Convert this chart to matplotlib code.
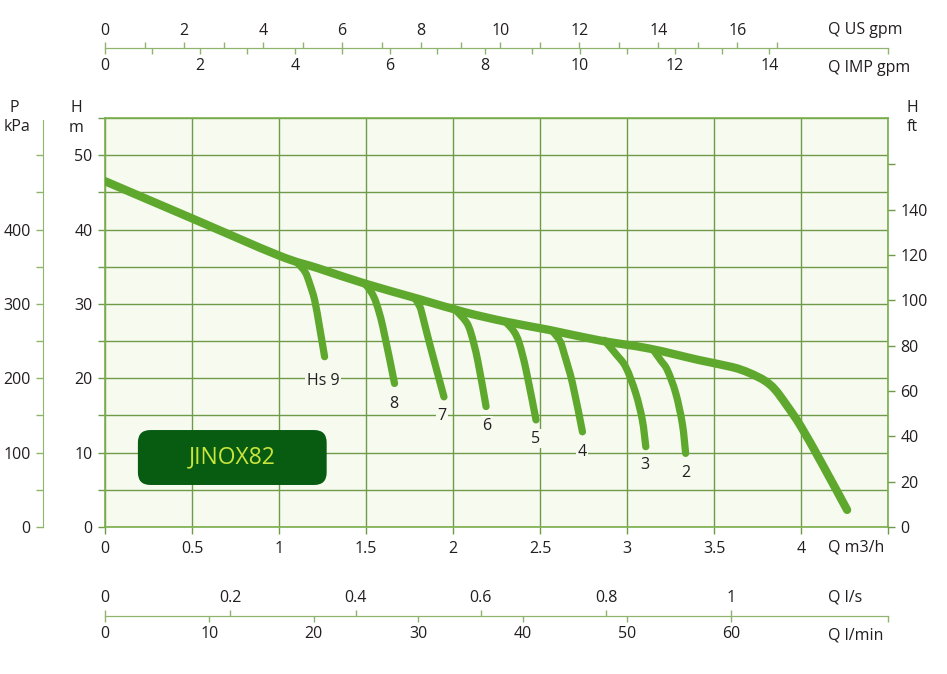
import matplotlib
matplotlib.use("Agg")
import matplotlib.pyplot as plt
from matplotlib.patches import FancyBboxPatch, PathPatch
from matplotlib.path import Path
import numpy as np

plt.rcParams['font.family'] = ['Open Sans', 'DejaVu Sans']

# ---------------- data (Q in m3/h, H in m) ----------------
main_q = [0.0, 0.5, 1.0, 1.224, 1.492, 1.798, 2.065, 2.305, 2.553, 2.84, 3.127,
          3.414, 3.605, 3.70, 3.79, 3.85, 3.92, 4.0, 4.121, 4.265]
main_h = [46.5, 41.5, 36.5, 34.8, 32.75, 30.7, 28.9, 27.6, 26.5, 25.1, 24.0,
          22.45, 21.5, 20.75, 19.7, 18.5, 16.3, 13.5, 8.5, 2.3]

hs9_q = [1.105, 1.15, 1.176, 1.205, 1.233, 1.262]
hs9_h = [35.55, 34.3, 32.75, 30.5, 26.9, 22.9]
hs8_q = [1.49, 1.53, 1.559, 1.597, 1.664]
hs8_h = [32.8, 31.6, 30.1, 26.9, 19.3]
hs7_q = [1.78, 1.81, 1.826, 1.865, 1.948]
hs7_h = [30.8, 29.6, 28.3, 24.7, 17.5]
hs6_q = [2.01, 2.075, 2.104, 2.142, 2.19]
hs6_h = [29.3, 27.6, 26.0, 22.4, 16.2]
hs5_q = [2.30, 2.35, 2.381, 2.42, 2.477]
hs5_h = [27.65, 26.3, 24.7, 21.1, 14.4]
hs4_q = [2.57, 2.615, 2.639, 2.687, 2.744]
hs4_h = [26.4, 25.0, 23.3, 19.3, 12.8]
hs3_q = [2.87, 2.935, 2.993, 3.05, 3.088, 3.108]
hs3_h = [25.1, 23.3, 21.5, 18.0, 14.4, 10.8]
hs2_q = [3.15, 3.194, 3.232, 3.28, 3.318, 3.337]
hs2_h = [23.85, 22.4, 21.1, 18.0, 13.9, 9.9]

branch_labels = ['Hs 9', '8', '7', '6', '5', '4', '3', '2']
branch_q = [hs9_q, hs8_q, hs7_q, hs6_q, hs5_q, hs4_q, hs3_q, hs2_q]
branch_h = [hs9_h, hs8_h, hs7_h, hs6_h, hs5_h, hs4_h, hs3_h, hs2_h]
label_q = [1.253, 1.66, 1.935, 2.193, 2.476, 2.74, 3.103, 3.34]
label_h = [19.7, 16.6, 14.9, 13.6, 11.9, 10.1, 8.3, 7.3]

model_name = 'JINOX82'

# tick values / labels
q_ticks = [0, 0.5, 1, 1.5, 2, 2.5, 3, 3.5, 4, 4.5]
q_ticklabels = ['0', '0.5', '1', '1.5', '2', '2.5', '3', '3.5', '4', '']
h_ticks = [0, 5, 10, 15, 20, 25, 30, 35, 40, 45, 50, 55]
h_ticklabels = ['0', '', '10', '', '20', '', '30', '', '40', '', '50', '']
kpa_ticks = [0, 100, 200, 300, 400]
kpa_minor = [50, 150, 250, 350, 450, 500]
ft_ticks = [0, 20, 40, 60, 80, 100, 120, 140]
ft_minor = [160]
usgpm_ticks = [0, 2, 4, 6, 8, 10, 12, 14, 16]
usgpm_minor = [1, 3, 5, 7, 9, 11, 13, 15, 17]
impgpm_ticks = [0, 2, 4, 6, 8, 10, 12, 14]
impgpm_minor = [1, 3, 5, 7, 9, 11, 13]
ls_ticks = [0, 0.2, 0.4, 0.6, 0.8, 1.0]
ls_ticklabels = ['0', '0.2', '0.4', '0.6', '0.8', '1']
lmin_ticks = [0, 10, 20, 30, 40, 50, 60]

# unit conversions
Q_MAX = 4.5
H_MAX = 55
US_PER_M3H = 4.40287
IMP_PER_M3H = 3.66615
LS_PER_M3H = 1 / 3.6
LMIN_PER_M3H = 1000 / 60
KPA_PER_M = 10.0
FT_PER_M = 1 / 0.3048

# ---------------- style ----------------
W, H = 947, 674
curve_c = '#5fa82e'
grid_c = '#6f9a48'
edge_c = '#7aaf4c'
aux_c = '#8fb46c'
text_c = '#231f20'
bg_c = '#f6faef'
FS = 11.5


def fx(px):
    return px / W


def fy(py):
    return 1 - py / H


def smooth_path(xs, ys):
    """Smooth curve through the given points (Catmull-Rom as cubic Bezier)."""
    p = np.column_stack([xs, ys]).astype(float)
    n = len(p)
    verts = [p[0]]
    codes = [Path.MOVETO]
    for i in range(n - 1):
        p0 = p[i - 1] if i > 0 else p[i]
        p1 = p[i]
        p2 = p[i + 1]
        p3 = p[i + 2] if i + 2 < n else p[i + 1]
        c1 = p1 + (p2 - p0) / 6.0
        c2 = p2 - (p3 - p1) / 6.0
        verts += [c1, c2, p2]
        codes += [Path.CURVE4] * 3
    return Path(verts, codes)


def draw_curve(axis, xs, ys, lw):
    patch = PathPatch(smooth_path(xs, ys), facecolor='none', edgecolor=curve_c,
                      lw=lw, capstyle='round', joinstyle='round', zorder=4)
    axis.add_patch(patch)


fig = plt.figure(figsize=(W / 100, H / 100), dpi=100)

# main axes
ax = fig.add_axes([fx(105), fy(527), fx(888) - fx(105), fy(118) - fy(527)])
ax.set_facecolor(bg_c)
ax.set_xlim(0, Q_MAX)
ax.set_ylim(0, H_MAX)
ax.set_xticks(q_ticks)
ax.set_xticklabels(q_ticklabels)
ax.set_yticks(h_ticks)
ax.set_yticklabels(h_ticklabels)
ax.grid(True, color=grid_c, linewidth=1.0)
ax.set_axisbelow(True)
for s in ax.spines.values():
    s.set_color(edge_c)
    s.set_linewidth(1.2)
ax.tick_params(axis='both', direction='out', length=5, width=1, color=grid_c,
               labelsize=FS, labelcolor=text_c)
ax.tick_params(axis='x', pad=5)
ax.tick_params(axis='y', pad=4)

draw_curve(ax, main_q, main_h, 6)
for bq, bh in zip(branch_q, branch_h):
    draw_curve(ax, bq, bh, 5.2)
for lab, lq, lh in zip(branch_labels, label_q, label_h):
    ax.text(lq, lh, lab, ha='center', va='center', fontsize=FS, color=text_c,
            zorder=5, bbox=dict(facecolor=bg_c, edgecolor='none', pad=1.0))

# model box
box_x, box_y, box_w, box_h = 0.189, 5.65, 1.085, 7.39
aspect = (H_MAX / 409.0) / (Q_MAX / 783.0)
box = FancyBboxPatch((box_x, box_y), box_w, box_h,
                     boxstyle='round,pad=0,rounding_size=0.072',
                     mutation_aspect=aspect, facecolor='#085c12',
                     edgecolor='none', zorder=5)
ax.add_patch(box)
ax.text(box_x + box_w / 2, box_y + box_h / 2, model_name, ha='center',
        va='center', fontsize=16.5, color='#c9e53c', zorder=6)

# right ft axis
axr = ax.twinx()
axr.set_ylim(0, H_MAX * FT_PER_M)
axr.set_yticks(ft_ticks)
axr.set_yticks(ft_minor, minor=True)
for s in axr.spines.values():
    s.set_visible(False)
axr.tick_params(axis='y', which='both', direction='out', length=5, width=1,
                color=grid_c, labelsize=FS, labelcolor=text_c, pad=4)

# left kPa axis
axk = fig.add_axes([fx(43), fy(527), 0.0005, fy(120) - fy(527)])
axk.set_ylim(0, (527 - 120) / 409.0 * H_MAX * KPA_PER_M)
axk.set_yticks(kpa_ticks)
axk.set_yticks(kpa_minor, minor=True)
axk.set_xticks([])
axk.patch.set_visible(False)
for k, s in axk.spines.items():
    s.set_visible(k == 'left')
axk.spines['left'].set_color(aux_c)
axk.tick_params(axis='y', which='both', direction='out', length=5, width=1,
                color=aux_c, labelsize=FS, labelcolor=text_c, pad=4)


# top axes (US gpm above, IMP gpm below)
def hbar(py):
    a = fig.add_axes([fx(105), fy(py), fx(888) - fx(105), 0.0001])
    a.patch.set_visible(False)
    a.set_yticks([])
    for s in a.spines.values():
        s.set_visible(False)
    return a


axu = hbar(48.3)
axu.set_xlim(0, Q_MAX * US_PER_M3H)
axu.spines['top'].set_visible(True)
axu.spines['top'].set_color(aux_c)
axu.xaxis.set_ticks_position('top')
axu.set_xticks(usgpm_ticks)
axu.set_xticks(usgpm_minor, minor=True)
axu.tick_params(axis='x', which='both', direction='out', length=4, width=1,
                color=aux_c, labelsize=FS, labelcolor=text_c, pad=3,
                top=True, bottom=False, labeltop=True, labelbottom=False)

axi = hbar(48.3)
axi.set_xlim(0, Q_MAX * IMP_PER_M3H)
axi.spines['bottom'].set_visible(True)
axi.spines['bottom'].set_color(aux_c)
axi.set_xticks(impgpm_ticks)
axi.set_xticks(impgpm_minor + [Q_MAX * IMP_PER_M3H], minor=True)
axi.tick_params(axis='x', which='both', direction='out', length=4, width=1,
                color=aux_c, labelsize=FS, labelcolor=text_c, pad=3)

# bottom axes (l/s above, l/min below)
axs = hbar(616)
axs.set_xlim(0, Q_MAX * LS_PER_M3H)
axs.spines['top'].set_visible(True)
axs.spines['top'].set_color(aux_c)
axs.xaxis.set_ticks_position('top')
axs.set_xticks(ls_ticks)
axs.set_xticklabels(ls_ticklabels)
axs.tick_params(axis='x', which='both', direction='out', length=4, width=1,
                color=aux_c, labelsize=FS, labelcolor=text_c, pad=3,
                top=True, bottom=False, labeltop=True, labelbottom=False)

axm = hbar(616)
axm.set_xlim(0, Q_MAX * LMIN_PER_M3H)
axm.spines['bottom'].set_visible(True)
axm.spines['bottom'].set_color(aux_c)
axm.set_xticks(lmin_ticks)
axm.set_xticks([Q_MAX * LMIN_PER_M3H], minor=True)
axm.tick_params(axis='x', which='both', direction='out', length=4, width=1,
                color=aux_c, labelsize=FS, labelcolor=text_c, pad=3)


# unit labels
def ftext(px, py, s, ha='left'):
    fig.text(fx(px), fy(py), s, ha=ha, va='center', fontsize=FS, color=text_c)


ftext(828, 30, 'Q US gpm')
ftext(828, 68, 'Q IMP gpm')
ftext(828, 547, 'Q m3/h')
ftext(828, 598, 'Q l/s')
ftext(828, 635, 'Q l/min')
ftext(14, 108, 'P', ha='center')
ftext(17, 127, 'kPa', ha='center')
ftext(76, 108, 'H', ha='center')
ftext(76, 128, 'm', ha='center')
ftext(912, 108, 'H', ha='center')
ftext(912, 127, 'ft', ha='center')

fig.savefig('out.png', dpi=100, facecolor='white')
